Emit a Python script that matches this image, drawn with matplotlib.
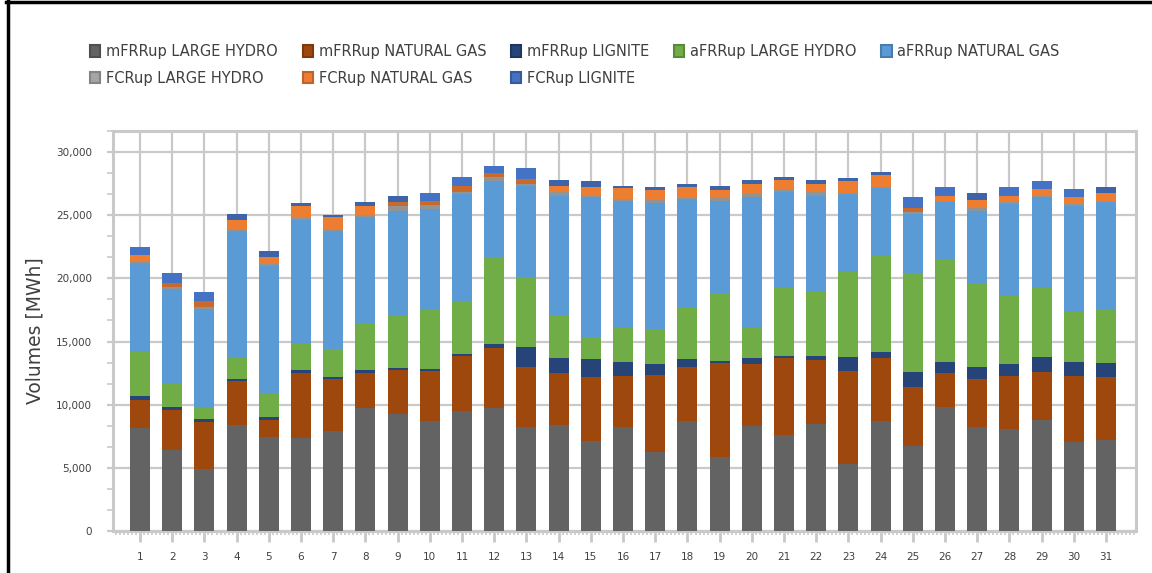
import numpy as np
import matplotlib
matplotlib.use("Agg")
import matplotlib.pyplot as plt
from matplotlib.lines import Line2D
from matplotlib.ticker import MultipleLocator, FuncFormatter

# Daily upward balancing volumes (MWh) per product / fuel
days = list(range(1, 32))

mfrr_hydro = [8170, 6400, 4890, 8390, 7430, 7380, 7910, 9760, 9290, 8700,
              9500, 9760, 8230, 8390, 7120, 8230, 6270, 8700, 5850, 8330,
              7590, 8490, 5320, 8700, 6750, 9810, 8230, 8070, 8810, 7060, 7220]
mfrr_gas = [2200, 3180, 3760, 3490, 1350, 5130, 4130, 2750, 3460, 3970,
            4360, 4740, 4760, 4120, 5080, 4050, 6080, 4290, 7460, 4900,
            6110, 5050, 7350, 5000, 4650, 2700, 3810, 4210, 3780, 5220, 4980]
mfrr_lignite = [320, 230, 210, 160, 240, 240, 160, 240, 160, 160,
                160, 310, 1590, 1190, 1420, 1110, 880, 630, 160, 470,
                160, 320, 1110, 480, 1190, 880, 950, 950, 1190, 1110, 1110]
afrr_hydro = [3520, 1880, 930, 1690, 1850, 2140, 2170, 3730, 4150, 4710,
              4210, 6910, 5550, 3420, 1700, 2720, 2780, 4130, 5390, 2460,
              5480, 5160, 6830, 7700, 7810, 8170, 6610, 5420, 5510, 4040, 4230]
afrr_gas = [7010, 7490, 7800, 10000, 10080, 9710, 9360, 8360, 8310, 7990,
            8410, 5950, 7220, 9440, 11160, 10050, 9940, 8520, 7300, 10320,
            7460, 7540, 6030, 5240, 4730, 4520, 5770, 7200, 7190, 8260, 8470]
fcr_hydro = [160, 160, 160, 160, 160, 160, 160, 160, 320, 240,
             160, 320, 160, 240, 30, 160, 290, 130, 240, 160,
             240, 240, 30, 80, 160, 30, 240, 160, 30, 160, 70]
fcr_gas = [500, 320, 480, 770, 610, 930, 950, 690, 390, 390,
           480, 320, 320, 550, 690, 800, 720, 800, 560, 870,
           710, 710, 1000, 950, 320, 450, 630, 550, 530, 630, 640]
fcr_lignite = [630, 790, 710, 470, 480, 240, 210, 390, 480, 560,
               710, 550, 870, 400, 470, 230, 240, 310, 390, 240,
               240, 240, 240, 240, 870, 640, 480, 640, 630, 560, 480]

series = [
    ("mFRRup LARGE HYDRO", mfrr_hydro, "#636363"),
    ("mFRRup NATURAL GAS", mfrr_gas, "#9E480E"),
    ("mFRRup LIGNITE", mfrr_lignite, "#264478"),
    ("aFRRup LARGE HYDRO", afrr_hydro, "#70AD47"),
    ("aFRRup NATURAL GAS", afrr_gas, "#5B9BD5"),
    ("FCRup LARGE HYDRO", fcr_hydro, "#939393"),
    ("FCRup NATURAL GAS", fcr_gas, "#ED7D31"),
    ("FCRup LIGNITE", fcr_lignite, "#4472C4"),
]

# shading differences of the FCR segments on some days
gas_dark_days = {2, 3, 9, 10, 11, 12, 13, 25}
lignite_light_days = {1, 2, 3, 10, 11, 12, 13, 25, 26, 28, 29, 30}

legend_colors = {"FCRup LARGE HYDRO": "#A5A5A5"}

TEXT = "#404040"
GRID = "#C9C9C9"

plt.rcParams["font.family"] = ["DejaVu Sans"]

fig = plt.figure(figsize=(11.52, 5.73), dpi=100)
ax = fig.add_axes([113 / 1152, 1 - 531 / 573, (1136 - 113) / 1152, (531 - 131) / 573])

x = np.array(days)
bottom = np.zeros(len(days))
handles = {}
for name, values, color in series:
    vals = np.array(values, dtype=float)
    colors = [color] * len(days)
    if name == "FCRup NATURAL GAS":
        colors = ["#C9692C" if d in gas_dark_days else color for d in days]
    if name == "FCRup LIGNITE":
        colors = [color if d in lignite_light_days else "#3D63A9" for d in days]
    ax.bar(x, vals, bottom=bottom, width=0.62, color=colors, linewidth=0, zorder=3)
    bottom += vals
    fc = legend_colors.get(name, color)
    handles[name] = plt.Rectangle((0, 0), 1, 1, facecolor=fc,
                                  edgecolor=matplotlib.colors.to_hex(
                                      np.array(matplotlib.colors.to_rgb(fc)) * 0.8),
                                  linewidth=1.5)

ax.set_xlim(0.16, 31.93)
ax.set_ylim(0, 31667)

ax.yaxis.set_major_locator(MultipleLocator(5000))
ax.yaxis.set_minor_locator(MultipleLocator(5000 / 3))
ax.yaxis.set_major_formatter(FuncFormatter(lambda v, p: f"{int(v):,}"))
ax.set_xticks(days)
ax.set_xticklabels([str(d) for d in days])
ax.xaxis.set_minor_locator(MultipleLocator(1 / 8))

ax.grid(True, which="major", color=GRID, linewidth=1.6, zorder=0)
ax.set_axisbelow(True)
for sp in ax.spines.values():
    sp.set_color(GRID)
    sp.set_linewidth(2.2)

ax.tick_params(axis="y", which="major", length=4, width=1.6, color=GRID,
               labelsize=7.5, labelcolor=TEXT, pad=11)
ax.tick_params(axis="y", which="minor", length=4, width=1.2, color=GRID)
ax.tick_params(axis="x", which="major", length=8, width=2, color=GRID,
               labelsize=7.5, labelcolor=TEXT, pad=7)
ax.tick_params(axis="x", which="minor", length=3, width=1.2, color=GRID)

ax.set_ylabel("Volumes [MWh]", fontsize=13.5, color=TEXT)
ax.yaxis.set_label_coords(-0.067, 0.5)

# legend filled column by column, so order entries to read row by row
order = ["mFRRup LARGE HYDRO", "FCRup LARGE HYDRO",
         "mFRRup NATURAL GAS", "FCRup NATURAL GAS",
         "mFRRup LIGNITE", "FCRup LIGNITE",
         "aFRRup LARGE HYDRO", "aFRRup NATURAL GAS"]
fig.legend([handles[n] for n in order], order, loc="upper left",
           bbox_to_anchor=(90 / 1152, 1 - 44 / 573), ncol=5, frameon=False,
           fontsize=10.5, labelcolor=TEXT, borderpad=0, borderaxespad=0,
           handlelength=0.7, handleheight=0.85, handletextpad=0.4,
           columnspacing=1.7, labelspacing=0.8)

# outer frame of the chart area
fig.add_artist(Line2D([6 / 1152, 1], [1 - 1.5 / 573, 1 - 1.5 / 573], color="black", linewidth=2.5))
fig.add_artist(Line2D([7.5 / 1152, 7.5 / 1152], [0, 1], color="black", linewidth=2.5))

fig.savefig("out.png", dpi=100, facecolor="white")
